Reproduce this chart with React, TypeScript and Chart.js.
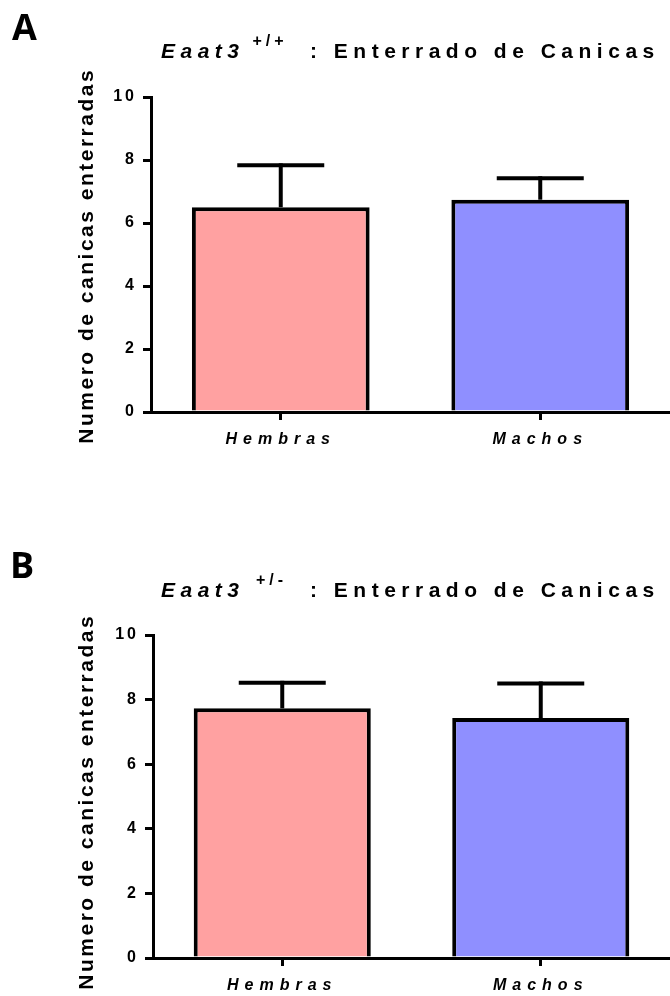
import React, { useEffect, useRef } from "react";
import { Chart, registerables } from "chart.js";

Chart.register(...registerables);

// ---------- data ----------
const categories = ["Hembras", "Machos"];
const yTickValues = [0, 2, 4, 6, 8, 10];
const meansA = [6.5, 6.74];
const errTopA = [7.83, 7.42];
const meansB = [7.73, 7.43];
const errTopB = [8.52, 8.5];
const barColors = ["#FFA1A1", "#8F8FFF"];
const yAxisTitle = "Numero de canicas enterradas";
const titleGene = "Eaat3";
const titleRest = ": Enterrado de Canicas";
const supA = "+/+";
const supB = "+/-";

const FAMILY = '"Liberation Sans", Arial, sans-serif';
Chart.defaults.font.family = FAMILY;

type PanelProps = {
  letter: string;
  sup: string;
  means: number[];
  errTop: number[];
  height: number;
  top: number;
  bottom: number;
  left: number;
  titleBase: number;
  letterBase: number;
  letterX: number;
  supX: number;
  yTitleCenter: number;
};

function patchLetterSpacing(scale: any, ls: string) {
  if (!scale || scale.__lsPatched) return;
  const orig = scale.drawLabels;
  scale.drawLabels = function (ca: any) {
    const ctx = this.ctx;
    ctx.save();
    (ctx as any).letterSpacing = ls;
    orig.call(this, ca);
    ctx.restore();
  };
  scale.__lsPatched = true;
}

function Panel(p: PanelProps) {
  const ref = useRef<HTMLCanvasElement>(null);
  useEffect(() => {
    const canvas = ref.current!;
    const H = p.height;

    const spacingPlugin = {
      id: "spacing",
      afterLayout(chart: any) {
        patchLetterSpacing(chart.scales.x, "6px");
        patchLetterSpacing(chart.scales.y, "3px");
      },
    };

    const errorPlugin = {
      id: "errbars",
      afterDatasetsDraw(chart: any) {
        const ctx = chart.ctx;
        const meta = chart.getDatasetMeta(0);
        const ys = chart.scales.y;
        ctx.save();
        ctx.strokeStyle = "#000";
        ctx.lineWidth = 4;
        ctx.lineCap = "butt";
        meta.data.forEach((bar: any, i: number) => {
          const yt = ys.getPixelForValue(p.errTop[i]);
          ctx.beginPath();
          ctx.moveTo(bar.x, bar.y);
          ctx.lineTo(bar.x, yt - 2);
          ctx.stroke();
          ctx.beginPath();
          ctx.moveTo(bar.x - 43.5, yt);
          ctx.lineTo(bar.x + 43.5, yt);
          ctx.stroke();
        });
        ctx.restore();
      },
    };

    const textPlugin = {
      id: "texts",
      afterDraw(chart: any) {
        const ctx = chart.ctx;
        ctx.save();
        ctx.fillStyle = "#000";
        ctx.textBaseline = "alphabetic";
        ctx.textAlign = "left";
        // panel letter
        (ctx as any).letterSpacing = "0px";
        ctx.font = 'bold 36px "Open Sans", sans-serif';
        ctx.fillText(p.letter, p.letterX, p.letterBase);
        // title
        (ctx as any).letterSpacing = "5.5px";
        ctx.font = `italic bold 21px ${FAMILY}`;
        ctx.fillText(titleGene, 161, p.titleBase);
        (ctx as any).letterSpacing = "4px";
        ctx.font = `bold 16px ${FAMILY}`;
        ctx.fillText(p.sup, p.supX, p.titleBase - 12.5);
        (ctx as any).letterSpacing = "5.5px";
        ctx.font = `bold 21px ${FAMILY}`;
        ctx.fillText(titleRest, 310, p.titleBase);
        // y axis title
        ctx.translate(93, p.yTitleCenter);
        ctx.rotate(-Math.PI / 2);
        (ctx as any).letterSpacing = "2.5px";
        ctx.font = `bold 21px ${FAMILY}`;
        ctx.textAlign = "center";
        ctx.fillText(yAxisTitle, 1.25, 0);
        ctx.restore();
      },
    };

    const chart = new Chart(canvas, {
      type: "bar",
      data: {
        labels: categories,
        datasets: [
          {
            data: p.means,
            backgroundColor: barColors,
            borderColor: "#000",
            borderWidth: 4,
            barPercentage: 0.685,
            categoryPercentage: 1,
          },
        ],
      },
      options: {
        responsive: false,
        animation: false,
        devicePixelRatio: 1,
        layout: { padding: { top: p.top, left: 0, right: 0, bottom: 0 } },
        plugins: {
          legend: { display: false },
          tooltip: { enabled: false },
          title: { display: false },
        },
        scales: {
          x: {
            type: "category",
            offset: true,
            grid: {
              display: true,
              drawOnChartArea: false,
              drawTicks: true,
              tickLength: 8,
              lineWidth: 3,
              color: "#000",
              offset: false,
            },
            border: { display: true, color: "#000", width: 3 },
            ticks: {
              color: "#000",
              padding: 10,
              font: { family: FAMILY, size: 16, weight: "bold", style: "italic" },
            },
            afterFit: (s: any) => {
              s.height = H - p.bottom;
            },
          },
          y: {
            min: 0,
            max: 10,
            afterBuildTicks: (s: any) => {
              s.ticks = yTickValues.map((v) => ({ value: v }));
            },
            grid: {
              display: true,
              drawOnChartArea: false,
              drawTicks: true,
              tickLength: 8,
              lineWidth: 3,
              color: "#000",
            },
            border: { display: true, color: "#000", width: 3 },
            ticks: {
              color: "#000",
              padding: 6,
              font: { family: FAMILY, size: 16, weight: "bold" },
            },
            afterFit: (s: any) => {
              s.width = p.left;
            },
          },
        },
      } as any,
      plugins: [spacingPlugin, errorPlugin, textPlugin],
    });
    return () => chart.destroy();
  }, []);
  return (
    <canvas
      ref={ref}
      width={670}
      height={p.height}
      style={{ display: "block", width: 670, height: p.height }}
    />
  );
}

export default function App() {
  return (
    <div
      style={{
        position: "absolute",
        left: 0,
        top: 0,
        width: 670,
        height: 996,
        background: "#fff",
      }}
    >
      <Panel
        letter="A"
        sup={supA}
        means={meansA}
        errTop={errTopA}
        height={498}
        top={97}
        bottom={412}
        left={151}
        titleBase={58}
        letterBase={40}
        letterX={12}
        supX={252.5}
        yTitleCenter={257}
      />
      <Panel
        letter="B"
        sup={supB}
        means={meansB}
        errTop={errTopB}
        height={498}
        top={137}
        bottom={460}
        left={153}
        titleBase={99}
        letterBase={80}
        letterX={10}
        supX={256}
        yTitleCenter={305}
      />
    </div>
  );
}
